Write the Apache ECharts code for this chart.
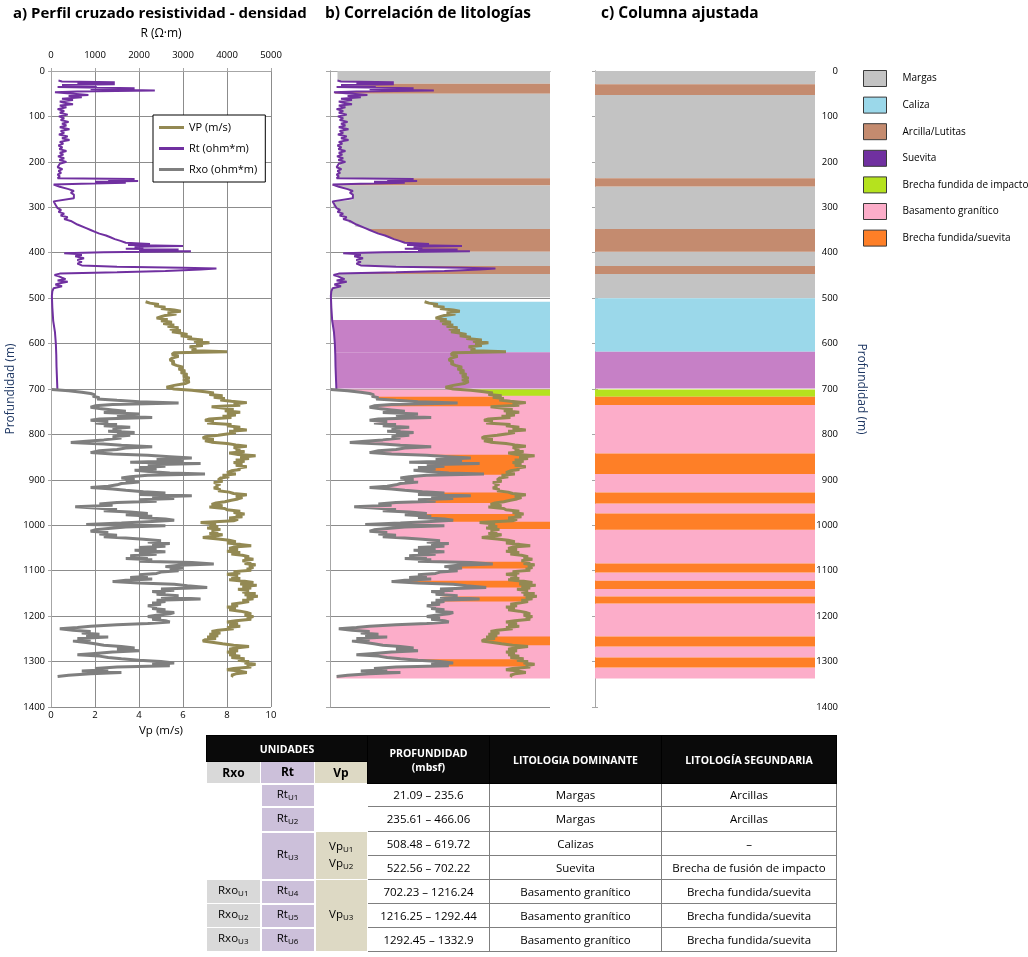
<!DOCTYPE html>
<html>
<head>
<meta charset="utf-8">
<script src="https://cdn.jsdelivr.net/npm/echarts@6/dist/echarts.min.js"></script>
<style>
  html, body { margin: 0; padding: 0; background: #fff; }
  #wrap { position: relative; width: 1028px; height: 957px; }
  #chart { position: absolute; left: 0; top: 0; width: 1028px; height: 957px; }
  #tbl { position: absolute; left: 206px; top: 735px; }
  table { border-collapse: collapse; font-family: 'Open Sans', sans-serif; font-size: 11.5px; color: #000; border: 1px solid #000; table-layout: fixed; }
  th { background: #0a0a0a; color: #fff; font-weight: bold; font-size: 10.5px; padding: 0; border: 1px solid #000; line-height: 14px; }
  td { text-align: center; padding: 0; border: 1px solid #7f7f7f; line-height: 14px; }
  td.lit { border-left: 1px solid #000; }
  .hRxo { background: #d9d9d9; color: #000; font-size: 12px; border: 1px solid #fff; }
  .hRt { background: #ccc0da; color: #000; font-size: 12px; border: 1px solid #fff; }
  .hVp { background: #ddd9c4; color: #000; font-size: 12px; border: 1px solid #fff; }
  .cRxo { background: #d9d9d9; border: 1px solid #fff; border-top: 1px solid #aaa; }
  .cRt { background: #ccc0da; border: 2px solid #fff; }
  .cVp { background: #ddd9c4; border: 1px solid #fff; }
  .cW { background: #fff; border-color: #fff; }
  sub { font-size: 8px; vertical-align: -2px; }
</style>
</head>
<body>
<div id="wrap">
  <div id="chart"></div>
  <div id="tbl"></div>
</div>
<script>
// ---------------- DATA ----------------
// Logs as [depth (m), value]
const rtLog = [[21,170],[23,250],[25,1450],[27,600],[29,1450],[31,250],[33,1040],[35,150],[38,1900],[40,900],[43,2360],[45,600],[47,90],[50,120],[53,850],[55,400],[58,700],[61,250],[64,500],[67,200],[70,300],[73,500],[76,200],[80,350],[84,150],[88,300],[92,200],[96,380],[100,180],[104,300],[108,220],[112,400],[116,250],[120,350],[124,200],[128,420],[132,220],[136,300],[140,180],[144,380],[148,250],[152,420],[156,200],[160,280],[164,170],[168,260],[172,190],[176,350],[180,200],[184,280],[188,160],[192,300],[196,190],[200,350],[204,200],[208,240],[212,150],[216,260],[220,170],[224,230],[228,150],[232,200],[236,150],[238,1900],[240,1300],[242,1980],[244,1000],[246,1700],[248,700],[250,60],[252,50],[255,200],[260,400],[264,520],[268,450],[272,520],[276,500],[280,520],[284,520],[287,60],[290,40],[294,100],[298,60],[302,150],[306,230],[310,170],[314,300],[318,220],[322,380],[326,300],[330,450],[334,420],[338,600],[342,560],[346,800],[350,900],[354,1000],[358,1100],[362,1250],[366,1350],[370,1450],[374,1580],[378,1700],[381,2250],[383,1750],[385,3000],[387,1900],[389,2100],[391,1700],[393,2900],[395,2000],[397,3180],[399,1200],[401,300],[403,600],[405,700],[408,550],[412,750],[416,600],[420,700],[424,600],[428,700],[431,1500],[433,3000],[435,3760],[437,3400],[440,2600],[443,1500],[446,200],[449,80],[452,180],[455,250],[458,330],[461,150],[464,380],[467,200],[470,100],[474,250],[478,60],[485,30],[495,20],[520,30],[550,50],[575,90],[600,110],[625,120],[650,125],[675,135],[700,145]];

const vpLog = [[508,4.3],[511,4.5],[514,4.9],[517,4.7],[520,5.2],[523,5.0],[526,5.6],[529,5.9],[532,5.3],[535,5.7],[538,5.2],[541,5.0],[544,4.8],[547,5.3],[550,5.0],[553,5.5],[556,5.1],[559,5.6],[562,5.3],[565,5.8],[568,5.4],[571,5.9],[574,5.5],[577,5.9],[580,6.2],[583,5.9],[586,6.4],[589,6.2],[592,6.9],[595,6.5],[598,7.2],[601,6.6],[604,6.9],[607,6.3],[610,6.6],[613,6.4],[616,6.6],[618,8.0],[620,5.6],[624,5.5],[628,5.8],[632,5.5],[636,5.4],[640,5.6],[644,5.5],[648,5.7],[652,6.0],[656,5.8],[660,6.1],[664,5.9],[668,6.2],[672,6.0],[676,6.3],[680,6.0],[684,6.3],[688,6.1],[692,5.6],[696,5.25],[700,5.6],[703,6.4],[706,7.0],[709,7.4],[712,7.2],[715,7.8],[718,7.4],[721,7.9],[724,7.7],[727,8.2],[730,8.9],[733,8.3],[736,8.6],[739,7.3],[742,7.8],[745,8.3],[748,7.9],[751,8.6],[754,8.0],[757,8.4],[760,7.8],[763,8.2],[766,7.2],[769,7.0],[772,7.4],[775,7.1],[778,8.2],[781,8.0],[784,8.6],[787,8.3],[790,8.9],[793,8.1],[796,8.4],[799,8.0],[802,7.6],[805,7.0],[808,6.9],[811,7.4],[814,7.0],[817,7.3],[820,8.0],[823,8.4],[826,8.9],[829,8.3],[832,8.6],[835,8.4],[838,8.8],[841,8.1],[844,8.5],[847,9.3],[850,8.6],[853,9.0],[856,8.4],[859,8.8],[862,8.3],[865,8.7],[868,8.4],[871,8.9],[874,8.5],[877,8.6],[880,8.2],[884,8.0],[887,8.4],[890,7.8],[893,8.1],[896,7.7],[900,7.6],[903,7.8],[906,7.4],[909,7.7],[912,7.5],[915,7.6],[918,7.4],[921,7.7],[924,7.6],[927,8.1],[930,8.3],[933,8.9],[936,8.4],[939,8.7],[942,8.5],[945,8.2],[948,7.9],[951,7.5],[954,7.3],[957,7.8],[960,7.2],[963,7.9],[966,8.0],[969,8.6],[972,8.3],[975,8.8],[978,8.4],[981,8.7],[984,8.1],[987,8.5],[990,8.3],[994,6.8],[997,7.5],[1000,7.2],[1003,7.6],[1006,7.1],[1009,7.7],[1012,7.3],[1015,7.6],[1018,7.2],[1021,7.8],[1024,7.4],[1027,6.9],[1030,7.6],[1033,8.1],[1036,8.4],[1039,8.0],[1042,8.6],[1045,9.1],[1048,8.3],[1051,8.1],[1054,8.5],[1057,8.0],[1060,8.6],[1063,8.2],[1066,8.7],[1069,9.0],[1072,8.8],[1075,9.2],[1078,8.7],[1081,9.1],[1084,8.8],[1087,9.3],[1090,9.0],[1093,9.2],[1096,8.9],[1099,9.1],[1102,8.3],[1105,8.6],[1108,8.0],[1111,8.5],[1114,8.2],[1117,8.6],[1120,8.1],[1123,8.8],[1126,9.2],[1129,8.6],[1132,9.35],[1135,8.7],[1138,9.1],[1141,8.5],[1144,9.0],[1147,8.7],[1150,9.3],[1153,8.8],[1156,9.4],[1159,8.9],[1162,9.2],[1165,8.7],[1168,9.0],[1171,8.6],[1174,8.2],[1177,8.5],[1180,8.0],[1183,8.4],[1186,8.1],[1189,8.6],[1192,8.9],[1195,9.1],[1198,8.8],[1201,9.2],[1204,8.9],[1207,9.1],[1210,8.4],[1213,8.0],[1216,8.5],[1219,8.1],[1222,8.6],[1225,8.0],[1228,8.3],[1231,7.6],[1234,7.3],[1237,7.7],[1240,7.2],[1243,7.6],[1246,7.1],[1249,7.5],[1252,7.0],[1255,6.9],[1258,7.4],[1261,7.8],[1264,8.3],[1267,9.0],[1270,8.4],[1273,8.1],[1276,8.5],[1279,8.0],[1282,8.4],[1285,8.1],[1288,8.6],[1291,8.2],[1294,8.8],[1297,8.5],[1300,9.0],[1303,8.8],[1306,9.3],[1309,8.9],[1312,9.1],[1315,8.3],[1318,8.0],[1321,8.6],[1324,8.9],[1327,8.4],[1330,8.2],[1333,8.3]];

const rxoLog = [[701,20],[704,400],[707,700],[710,900],[713,1000],[716,950],[719,1100],[722,1050],[725,1500],[728,2000],[731,2900],[734,1400],[737,1000],[740,900],[743,1100],[746,1400],[749,1700],[752,1200],[755,2000],[758,1500],[761,1800],[763,2300],[766,1100],[769,900],[772,1300],[775,1000],[778,1500],[781,1200],[784,1800],[787,1400],[790,1600],[793,1300],[796,1900],[799,1500],[802,1800],[805,1400],[808,1600],[812,1200],[815,800],[818,450],[821,1200],[824,1600],[827,2300],[830,1700],[833,1500],[836,1100],[840,900],[843,1400],[846,2200],[849,2700],[852,3200],[855,2400],[858,3000],[861,1800],[864,3400],[867,2200],[870,2600],[873,2000],[876,2400],[879,1900],[882,2300],[885,2700],[887,3500],[890,2200],[893,1800],[896,1600],[899,1900],[902,1700],[905,2000],[908,1600],[911,1500],[914,1300],[917,900],[920,1400],[923,1700],[926,2100],[929,2600],[932,2000],[935,3200],[938,2300],[941,2800],[944,2000],[947,2400],[950,1500],[953,1100],[956,1400],[959,550],[962,1000],[965,1500],[968,1200],[971,1800],[974,2200],[977,1700],[980,2300],[983,2000],[986,2600],[989,2800],[992,2200],[995,1600],[998,800],[1001,2600],[1004,1700],[1007,1300],[1010,1000],[1013,900],[1016,1300],[1019,1100],[1022,1500],[1025,1200],[1028,1700],[1031,2100],[1034,2500],[1037,2200],[1040,2700],[1043,2300],[1046,2600],[1049,2000],[1052,2400],[1055,1900],[1058,2600],[1061,2000],[1064,2400],[1067,1800],[1070,2200],[1073,1700],[1076,2300],[1079,2000],[1082,3200],[1085,3700],[1088,2900],[1091,2600],[1094,3000],[1097,2700],[1100,2900],[1103,2500],[1106,2400],[1109,2000],[1112,2200],[1115,1800],[1118,2300],[1121,1700],[1124,1400],[1127,2000],[1130,2800],[1133,3100],[1137,3550],[1140,2500],[1143,2800],[1146,2300],[1149,2600],[1152,2400],[1155,2900],[1158,2500],[1162,3400],[1165,2400],[1168,2600],[1171,2300],[1174,2500],[1177,2200],[1180,2400],[1183,2300],[1186,2600],[1189,2400],[1192,2800],[1195,2700],[1198,2400],[1201,2200],[1204,2500],[1207,2300],[1210,2600],[1213,2700],[1216,2200],[1219,1500],[1222,900],[1225,600],[1228,200],[1231,500],[1234,900],[1237,700],[1240,1100],[1243,800],[1246,1300],[1249,600],[1252,900],[1255,500],[1258,800],[1261,1000],[1264,1200],[1267,1600],[1270,1900],[1273,1500],[1276,2000],[1279,1400],[1282,1000],[1285,600],[1288,1100],[1291,1300],[1294,1600],[1297,2000],[1300,2500],[1303,2800],[1306,2300],[1309,2700],[1312,1500],[1315,1000],[1318,1300],[1321,700],[1324,1600],[1327,900],[1330,400],[1333,150]];

// Lithology names (legend order)
const lithNames = ['Margas', 'Caliza', 'Arcilla/Lutitas', 'Suevita', 'Brecha fundida de impacto', 'Basamento granítico', 'Brecha fundida/suevita'];

// Panel c: adjusted column intervals [top, bottom] (m) per lithology
const colMargas = [[0,29],[53,236],[254,348],[398,429],[447,500]];
const colCaliza = [[500,618]];
const colArcilla = [[29,53],[236,254],[348,398],[429,447]];
const colSuevita = [[618,699]];
const colBrechaImpacto = [[701,717]];
const colBasamento = [[735,842],[887,928],[952,974],[1010,1084],[1104,1122],[1140,1157],[1172,1245],[1267,1291],[1313,1337]];
const colBrechaSuevita = [[717,735],[842,887],[928,952],[974,1010],[1084,1104],[1122,1140],[1157,1172],[1245,1267],[1291,1313]];

// Panel b: correlated bands [top, bottom, lithology index, left boundary, right boundary]
const corrBands = [
  [0,28,0,'Rt','edge'],[28,50,2,'Rt','edge'],[50,236,0,'Rt','edge'],[236,252,2,'Rt','edge'],
  [252,348,0,'Rt','edge'],[348,398,2,'Rt','edge'],[398,429,0,'Rt','edge'],[429,447,2,'Rt','edge'],
  [447,498,0,'Rt','edge'],[508,619,1,'Vp','edge'],[548,619,3,'Rt','Vp'],[619,699,3,'Rt','edge'],
  [701,1337,5,'Rxo','edge'],[701,715,4,'Vp','edge'],
  [717,738,6,'Rxo','Vp'],[845,889,6,'Rxo','Vp'],[928,951,6,'Rxo','Vp'],[975,992,6,'Rxo','Vp'],
  [992,1008,6,'Vp','edge'],[1080,1095,6,'Rxo','Vp'],[1122,1137,6,'Rxo','Vp'],[1157,1168,6,'Rxo','Vp'],
  [1245,1264,6,'Vp','edge'],[1295,1311,6,'Rxo','Vp']
];

// Table
const tblDepth = ['21.09 – 235.6','235.61 – 466.06','508.48 – 619.72','522.56 – 702.22','702.23 – 1216.24','1216.25 – 1292.44','1292.45 – 1332.9'];
const tblDominant = ['Margas','Margas','Calizas','Suevita','Basamento granítico','Basamento granítico','Basamento granítico'];
const tblSecondary = ['Arcillas','Arcillas','–','Brecha de fusión de impacto','Brecha fundida/suevita','Brecha fundida/suevita','Brecha fundida/suevita'];

// ---------------- STYLE ----------------
const lithColors = ['#c3c3c3','#9bd8ea','#c48b6f','#c680c6','#b5e21e','#fcadc9','#fe7f27'];
const FONT = "'Open Sans', sans-serif";
const GRIDC = '#8c8c8c';
const AXC = '#a6a6a6';
const plainNum = v => String(v);

const vpToR = 500; // Vp axis 0-10 shares width with R axis 0-5000
const curvesR = {
  Rt: rtLog,
  Vp: vpLog.map(p => [p[0], p[1] * vpToR]),
  Rxo: rxoLog
};
function interp(c, d) {
  if (d <= c[0][0]) return c[0][1];
  if (d >= c[c.length - 1][0]) return c[c.length - 1][1];
  for (let i = 1; i < c.length; i++) {
    if (c[i][0] >= d) {
      const t = (d - c[i - 1][0]) / (c[i][0] - c[i - 1][0]);
      return c[i - 1][1] + t * (c[i][1] - c[i - 1][1]);
    }
  }
  return c[c.length - 1][1];
}
function boundary(key, y0, y1) {
  if (key === 'edge') return [[5000, y0], [5000, y1]];
  const c = curvesR[key];
  const pts = [[interp(c, y0), y0]];
  c.forEach(p => { if (p[0] > y0 && p[0] < y1) pts.push([p[1], p[0]]); });
  pts.push([interp(c, y1), y1]);
  return pts;
}

const chart = echarts.init(document.getElementById('chart'), null, { renderer: 'canvas' });

const gridsLeft = [51, 330, 595];
const grid = gridsLeft.map(l => ({ left: l, top: 71, width: 220, height: 636 }));

function plainX(gi, pos, max) {
  return { gridIndex: gi, type: 'value', position: pos, min: 0, max: max,
    axisLine: { show: true, lineStyle: { color: AXC } }, axisTick: { show: false },
    axisLabel: { show: false }, splitLine: { show: false } };
}
const depthAxisBase = { type: 'value', inverse: true, min: 0, max: 1400, interval: 100 };

const colSets = [colMargas, colCaliza, colArcilla, colSuevita, colBrechaImpacto, colBasamento, colBrechaSuevita];

const colSeries = colSets.map((set, i) => ({
  name: lithNames[i], type: 'custom', xAxisIndex: 4, yAxisIndex: 3,
  itemStyle: { color: lithColors[i] },
  encode: { x: 0, y: [1, 2] },
  data: set.map(s => [0, s[0], s[1]]),
  renderItem: (params, api) => {
    const p0 = api.coord([0, api.value(1)]);
    const p1 = api.coord([1, api.value(2)]);
    return { type: 'rect', shape: { x: p0[0], y: p0[1], width: p1[0] - p0[0], height: p1[1] - p0[1] },
      style: { fill: api.visual('color') } };
  }
}));

const bandSeries = {
  type: 'custom', name: 'corr', xAxisIndex: 3, yAxisIndex: 1, z: 1,
  encode: { x: 0, y: [1, 2] },
  data: corrBands.map((b, i) => [0, b[0], b[1], i]),
  renderItem: (params, api) => {
    const b = corrBands[api.value(3)];
    const left = boundary(b[3], b[0], b[1]);
    const right = boundary(b[4], b[0], b[1]).reverse();
    const pts = left.concat(right).map(p => api.coord([p[0], p[1]]));
    return { type: 'polygon', shape: { points: pts }, style: { fill: lithColors[b[2]] } };
  }
};

const tickLbl = { fontSize: 9.5, color: '#000', formatter: plainNum };

const option = {
  animation: false,
  textStyle: { fontFamily: FONT },
  title: [
    { text: 'a) Perfil cruzado resistividad - densidad', left: 8, top: 1, textStyle: { fontSize: 15, fontWeight: 'bold', color: '#000', fontFamily: FONT } },
    { text: 'b) Correlación de litologías', left: 320, top: 1, textStyle: { fontSize: 15.5, fontWeight: 'bold', color: '#000', fontFamily: FONT } },
    { text: 'c) Columna ajustada', left: 596, top: 1, textStyle: { fontSize: 15.5, fontWeight: 'bold', color: '#000', fontFamily: FONT } }
  ],
  legend: [
    { data: [
        { name: 'VP (m/s)', icon: 'rect' },
        { name: 'Rt (ohm*m)', icon: 'rect' },
        { name: 'Rxo (ohm*m)', icon: 'rect' }
      ],
      orient: 'vertical', left: 153, top: 115,
      itemWidth: 25, itemHeight: 3, itemGap: 10, padding: [7, 8, 7, 6],
      borderColor: '#000', borderWidth: 1, backgroundColor: '#fff', borderRadius: 0,
      textStyle: { fontSize: 11, color: '#000', fontFamily: FONT } },
    { data: lithNames.map((n, i) => i === 3 ? { name: n, itemStyle: { color: '#7030a0' } } : n),
      orient: 'vertical', left: 858, top: 65, icon: 'rect', itemWidth: 23, itemHeight: 16, itemGap: 9.6,
      itemStyle: { borderColor: '#3a3a3a', borderWidth: 1 },
      textStyle: { fontSize: 10, color: '#000', fontFamily: FONT, padding: [0, 0, 0, 11] } }
  ],
  grid: grid,
  xAxis: [
    { gridIndex: 0, type: 'value', position: 'bottom', min: 0, max: 10, interval: 2,
      name: 'Vp (m/s)', nameLocation: 'middle', nameGap: 16, nameTextStyle: { fontSize: 11.5, color: '#000' },
      axisLine: { show: true, lineStyle: { color: AXC } }, axisTick: { show: false },
      axisLabel: Object.assign({ margin: 3 }, tickLbl),
      splitLine: { show: true, lineStyle: { color: GRIDC, width: 1 } } },
    { gridIndex: 0, type: 'value', position: 'top', min: 0, max: 5000, interval: 1000,
      name: 'R (Ω·m)', nameLocation: 'middle', nameGap: 31, nameTextStyle: { fontSize: 12, color: '#000' },
      axisLine: { show: true, lineStyle: { color: AXC } }, axisTick: { show: true, length: 3, lineStyle: { color: AXC } },
      axisLabel: Object.assign({ margin: 11 }, tickLbl), splitLine: { show: false } },
    plainX(1, 'bottom', 10),
    plainX(1, 'top', 5000),
    plainX(2, 'bottom', 1),
    plainX(2, 'top', 1)
  ],
  yAxis: [
    Object.assign({ gridIndex: 0, position: 'left',
      name: 'Profundidad (m)', nameLocation: 'middle', nameGap: 34, nameRotate: 90,
      nameTextStyle: { fontSize: 12, color: '#1f3864' },
      axisLine: { show: true, lineStyle: { color: AXC } },
      axisTick: { show: true, length: 3, lineStyle: { color: AXC } },
      axisLabel: Object.assign({ margin: 6 }, tickLbl),
      splitLine: { show: true, lineStyle: { color: GRIDC, width: 1 } } }, depthAxisBase),
    Object.assign({ gridIndex: 1, position: 'left',
      axisLine: { show: true, lineStyle: { color: AXC } },
      axisTick: { show: true, length: 4, lineStyle: { color: AXC } },
      axisLabel: { show: false },
      splitLine: { show: true, lineStyle: { color: GRIDC, width: 1 } } }, depthAxisBase),
    Object.assign({ gridIndex: 1, position: 'right',
      axisLine: { show: true, lineStyle: { color: AXC } }, axisTick: { show: false },
      axisLabel: { show: false }, splitLine: { show: false } }, depthAxisBase),
    Object.assign({ gridIndex: 2, position: 'left',
      axisLine: { show: true, lineStyle: { color: AXC } },
      axisTick: { show: true, length: 3, lineStyle: { color: AXC } },
      axisLabel: { show: false }, splitLine: { show: false } }, depthAxisBase),
    Object.assign({ gridIndex: 2, position: 'right',
      name: 'Profundidad (m)', nameLocation: 'middle', nameGap: 40, nameRotate: -90,
      nameTextStyle: { fontSize: 12, color: '#1f3864' },
      axisLine: { show: true, lineStyle: { color: AXC } },
      axisTick: { show: true, length: 3, lineStyle: { color: AXC } },
      axisLabel: Object.assign({ margin: 23, align: 'right' }, tickLbl),
      splitLine: { show: false } }, depthAxisBase)
  ],
  series: [
    { name: 'VP (m/s)', type: 'line', xAxisIndex: 0, yAxisIndex: 0, symbol: 'none', showSymbol: false,
      lineStyle: { color: '#938953', width: 3 }, itemStyle: { color: '#938953' },
      data: vpLog.map(p => [p[1], p[0]]) },
    { name: 'Rt (ohm*m)', type: 'line', xAxisIndex: 1, yAxisIndex: 0, symbol: 'none', showSymbol: false,
      lineStyle: { color: '#7030a0', width: 2 }, itemStyle: { color: '#7030a0' },
      data: rtLog.map(p => [p[1], p[0]]) },
    { name: 'Rxo (ohm*m)', type: 'line', xAxisIndex: 1, yAxisIndex: 0, symbol: 'none', showSymbol: false,
      lineStyle: { color: '#7f7f7f', width: 3 }, itemStyle: { color: '#7f7f7f' },
      data: rxoLog.map(p => [p[1], p[0]]) },
    bandSeries,
    { name: 'Vp b', type: 'line', xAxisIndex: 2, yAxisIndex: 1, symbol: 'none', z: 3,
      lineStyle: { color: '#938953', width: 3 }, data: vpLog.map(p => [p[1], p[0]]) },
    { name: 'Rt b', type: 'line', xAxisIndex: 3, yAxisIndex: 1, symbol: 'none', z: 3,
      lineStyle: { color: '#7030a0', width: 2 }, data: rtLog.map(p => [p[1], p[0]]) },
    { name: 'Rxo b', type: 'line', xAxisIndex: 3, yAxisIndex: 1, symbol: 'none', z: 3,
      lineStyle: { color: '#7f7f7f', width: 3 }, data: rxoLog.map(p => [p[1], p[0]]) }
  ].concat(colSeries)
};
chart.setOption(option);

// ---------------- TABLE ----------------
function unit(base, n) { return base + '<sub>U' + n + '</sub>'; }
const rowH = [23, 25, 24, 24, 24, 24, 24];
let html = '<table><colgroup><col style="width:54px"><col style="width:54px"><col style="width:53px"><col style="width:122px"><col style="width:172px"><col style="width:175px"></colgroup>';
html += '<tr style="height:26px"><th colspan="3">UNIDADES</th><th rowspan="2">PROFUNDIDAD<br>(mbsf)</th><th rowspan="2">LITOLOGIA DOMINANTE</th><th rowspan="2">LITOLOGÍA SEGUNDARIA</th></tr>';
html += '<tr style="height:22px"><th class="hRxo">Rxo</th><th class="hRt">Rt</th><th class="hVp">Vp</th></tr>';
for (let i = 0; i < tblDepth.length; i++) {
  html += '<tr style="height:' + rowH[i] + 'px">';
  if (i === 0) html += '<td class="cW" rowspan="4" style="border-right:1px solid #fff"></td>';
  if (i >= 4) html += '<td class="cRxo">' + unit('Rxo', i - 3) + '</td>';
  if (i === 0) html += '<td class="cRt">' + unit('Rt', 1) + '</td>';
  if (i === 1) html += '<td class="cRt">' + unit('Rt', 2) + '</td>';
  if (i === 2) html += '<td class="cRt" rowspan="2">' + unit('Rt', 3) + '</td>';
  if (i >= 4) html += '<td class="cRt">' + unit('Rt', i) + '</td>';
  if (i === 0) html += '<td class="cW" rowspan="2"></td>';
  if (i === 2) html += '<td class="cVp" rowspan="2">' + unit('Vp', 1) + '<br>' + unit('Vp', 2) + '</td>';
  if (i === 4) html += '<td class="cVp" rowspan="3">' + unit('Vp', 3) + '</td>';
  html += '<td class="lit">' + tblDepth[i] + '</td><td class="lit">' + tblDominant[i] + '</td><td class="lit">' + tblSecondary[i] + '</td></tr>';
}
html += '</table>';
document.getElementById('tbl').innerHTML = html;
</script>
</body>
</html>
